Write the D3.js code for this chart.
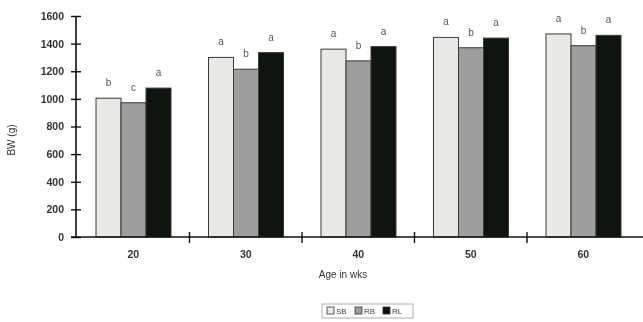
<!DOCTYPE html>
<html>
<head>
<meta charset="utf-8">
<script src="https://cdn.jsdelivr.net/npm/d3@7/dist/d3.min.js"></script>
<style>
  html, body { margin: 0; padding: 0; background: #fff; }
  svg { display: block; font-family: "Liberation Sans", Arial, sans-serif; }
</style>
</head>
<body>
<svg id="chart" width="643" height="322"></svg>
<script>
// Body weight by age for three strains
const ages = ["20", "30", "40", "50", "60"];
const strains = ["SB", "RB", "RL"];
const sbValues = [1005, 1300, 1360, 1445, 1470];
const rbValues = [972, 1215, 1275, 1370, 1385];
const rlValues = [1078, 1335, 1378, 1440, 1460];
const sbLetters = ["b", "a", "a", "a", "a"];
const rbLetters = ["c", "b", "b", "b", "b"];
const rlLetters = ["a", "a", "a", "a", "a"];
const yTicks = [0, 200, 400, 600, 800, 1000, 1200, 1400, 1600];

const valuesBy = { SB: sbValues, RB: rbValues, RL: rlValues };
const lettersBy = { SB: sbLetters, RB: rbLetters, RL: rlLetters };
const fills = { SB: "#e9e9e6", RB: "#9d9f9c", RL: "#101210" };

const svg = d3.select("#chart");
const axisX = 76, axisY = 237, topY = 16;

// soft print look
svg.append("defs").append("filter").attr("id", "soft")
  .append("feGaussianBlur").attr("stdDeviation", 0.35);
const root = svg.append("g").attr("filter", "url(#soft)");

const y = d3.scaleLinear().domain([0, 1600]).range([axisY, topY]);
const x0 = d3.scaleBand().domain(ages).range([axisX + 1, axisX + 1 + 112.5 * ages.length]);
const x1 = d3.scaleBand().domain(strains).range([19, 94]);

const rows = ages.map((a, i) => ({
  age: a,
  bars: strains.map(s => ({ s, v: valuesBy[s][i], l: lettersBy[s][i] }))
}));

const groups = root.selectAll("g.grp").data(rows).join("g")
  .attr("class", "grp")
  .attr("transform", d => `translate(${x0(d.age)},0)`);

groups.selectAll("rect").data(d => d.bars).join("rect")
  .attr("x", d => x1(d.s))
  .attr("y", d => y(d.v))
  .attr("width", x1.bandwidth())
  .attr("height", d => axisY - y(d.v))
  .attr("fill", d => fills[d.s])
  .attr("stroke", "#3a3a3a")
  .attr("stroke-width", 1);

groups.selectAll("text.sig").data(d => d.bars).join("text")
  .attr("class", "sig")
  .attr("x", d => x1(d.s) + x1.bandwidth() / 2)
  .attr("y", d => y(d.v) - 12)
  .attr("text-anchor", "middle")
  .attr("font-size", 10)
  .attr("fill", "#555")
  .text(d => d.l);

// Y axis
const yAxis = d3.axisLeft(y).tickValues(yTicks).tickSize(4).tickPadding(8).tickFormat(d3.format("d"));
const yg = root.append("g").attr("transform", `translate(${axisX},0)`).call(yAxis);
yg.select(".domain").attr("stroke", "#111").attr("stroke-width", 1.6).attr("d", `M0,${topY}V${axisY}`);
yg.selectAll(".tick line").attr("x1", -5).attr("x2", 5).attr("stroke", "#111").attr("stroke-width", 1.4);
yg.selectAll(".tick text").attr("font-size", 10.5).attr("font-weight", "bold").attr("fill", "#333");

// X axis
root.append("line")
  .attr("x1", axisX - 5).attr("x2", 643)
  .attr("y1", axisY).attr("y2", axisY)
  .attr("stroke", "#111").attr("stroke-width", 1.6);

root.selectAll("line.xt").data(ages.slice(1)).join("line")
  .attr("class", "xt")
  .attr("x1", d => x0(d)).attr("x2", d => x0(d))
  .attr("y1", axisY - 5).attr("y2", axisY + 6)
  .attr("stroke", "#111").attr("stroke-width", 1.4);

root.selectAll("text.xl").data(ages).join("text")
  .attr("class", "xl")
  .attr("x", d => x0(d) + x0.bandwidth() / 2)
  .attr("y", 258)
  .attr("text-anchor", "middle")
  .attr("font-size", 10.5)
  .attr("font-weight", "bold")
  .attr("fill", "#333")
  .text(d => d);

// Axis titles
root.append("text")
  .attr("x", 343).attr("y", 278)
  .attr("text-anchor", "middle")
  .attr("font-size", 10)
  .attr("fill", "#333")
  .text("Age in wks");

root.append("text")
  .attr("transform", "translate(15,140) rotate(-90)")
  .attr("text-anchor", "middle")
  .attr("font-size", 10)
  .attr("fill", "#333")
  .text("BW (g)");

// Legend
const lg = root.append("g").attr("transform", "translate(322,304)");
lg.append("rect").attr("x", 0).attr("y", 0).attr("width", 91).attr("height", 14)
  .attr("fill", "none").attr("stroke", "#999").attr("stroke-width", 0.8);
const items = lg.selectAll("g.li").data(strains).join("g")
  .attr("class", "li")
  .attr("transform", (d, i) => `translate(${5 + i * 28},3)`);
items.append("rect").attr("width", 7).attr("height", 7)
  .attr("fill", d => fills[d]).attr("stroke", "#333").attr("stroke-width", 0.8);
items.append("text").attr("x", 9).attr("y", 7).attr("font-size", 8).attr("fill", "#444").text(d => d);
</script>
</body>
</html>
